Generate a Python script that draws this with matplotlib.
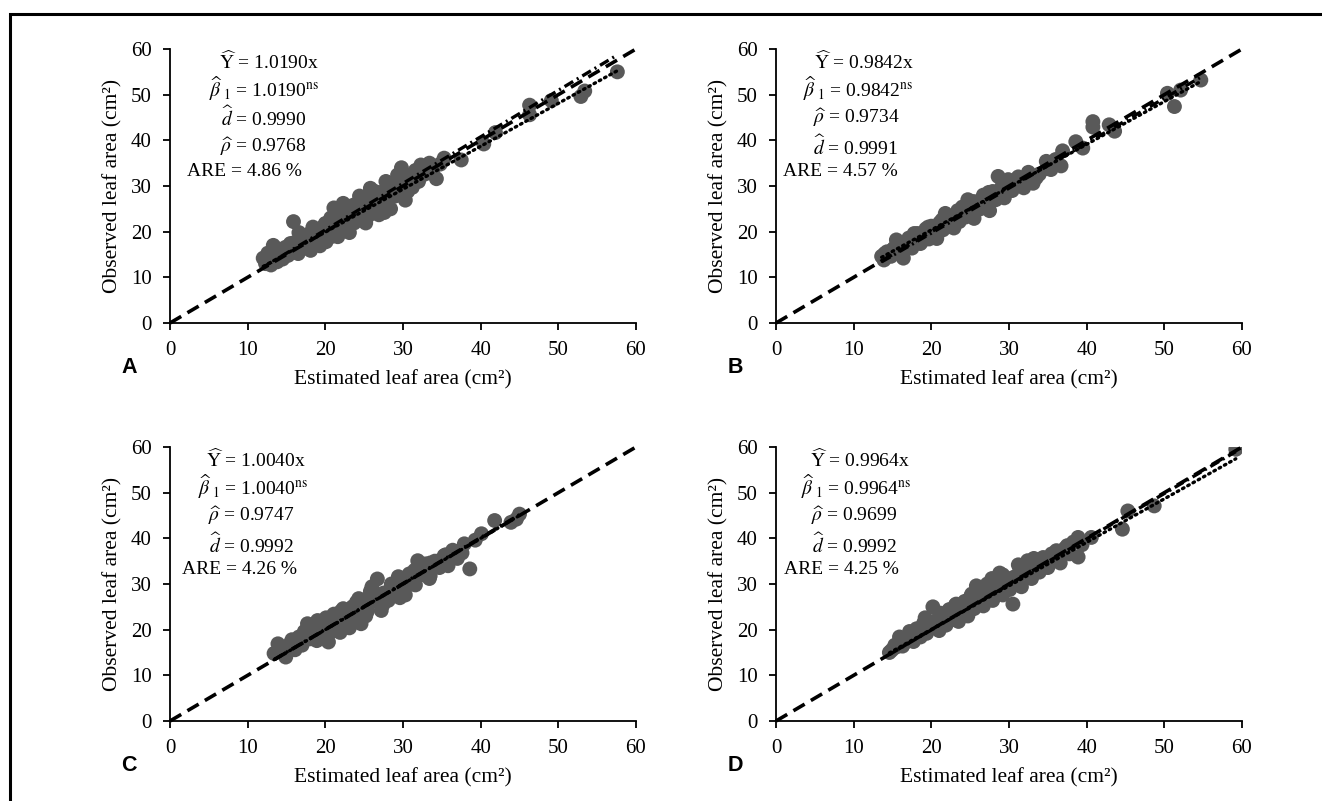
import matplotlib.pyplot as plt
from matplotlib.patches import Rectangle
import numpy as np

plt.rcParams['font.family'] = ['Liberation Serif', 'DejaVu Serif']
plt.rcParams['mathtext.fontset'] = 'stix'

# panel A: estimated vs observed leaf area
a_est = [12.0, 12.3, 12.6, 13.0, 13.3, 13.5, 13.8, 14.2, 14.5, 14.9, 15.2, 15.5, 15.9, 15.8, 16.2,
         16.5, 16.9, 17.2, 17.5, 17.8, 18.1, 18.4, 18.7, 19.0, 19.3, 19.6, 19.9, 20.1, 20.4, 20.7,
         20.9, 21.1, 21.3, 21.6, 21.9, 22.2, 22.5, 22.8, 23.1, 23.4, 23.7, 24.0, 24.3, 24.6, 24.9,
         25.2, 25.5, 25.8, 26.0, 26.3, 26.6, 26.9, 27.2, 27.5, 27.8, 28.1, 28.4, 28.7, 29.0, 29.3,
         29.6, 29.8, 30.1, 30.3, 30.6, 30.9, 31.2, 31.6, 32.0, 32.3, 32.8, 33.4, 33.8, 34.3, 34.8,
         35.3, 37.5, 40.4, 41.9, 46.3, 46.3, 49.1, 52.9, 53.4, 57.6,
         13.0, 14.0, 15.0, 16.0, 17.0, 18.0, 19.0, 20.0, 21.0, 22.0, 23.0, 24.0, 25.0, 26.0, 27.0,
         28.0, 29.0, 30.0, 31.0, 32.0, 33.0, 16.6, 18.4, 20.3, 22.3, 24.4, 26.4, 28.3, 30.2, 21.8,
         23.6, 25.6, 27.6, 29.4]
a_obs = [14.2, 13.0, 15.3, 12.7, 17.0, 14.6, 13.4, 15.8, 14.0, 16.6, 14.8, 17.4, 22.2, 15.5, 16.9,
         15.2, 18.3, 16.4, 19.0, 17.2, 15.9, 18.8, 17.5, 19.8, 16.9, 18.6, 21.4, 17.8, 20.2, 23.0,
         19.0, 25.2, 21.6, 18.9, 22.6, 20.4, 24.3, 21.5, 19.8, 23.4, 21.9, 25.0, 22.6, 26.6, 23.9,
         21.9, 25.6, 29.5, 24.2, 27.4, 25.3, 23.7, 28.6, 26.4, 31.0, 27.2, 25.0, 29.8, 27.8, 32.4,
         29.0, 34.0, 30.6, 26.9, 28.8, 32.0, 29.7, 33.4, 31.0, 34.6, 32.6, 35.0, 33.2, 31.6, 34.8,
         36.1, 35.7, 39.2, 41.7, 47.7, 45.6, 48.7, 49.6, 50.8, 55.0,
         14.8, 16.2, 15.6, 17.6, 17.8, 19.6, 18.0, 21.8, 20.6, 23.6, 22.4, 23.2, 27.0, 26.0, 25.6,
         29.6, 30.2, 32.8, 31.8, 32.6, 34.0, 19.8, 21.0, 18.8, 26.2, 27.8, 28.8, 28.2, 29.0, 24.8,
         25.8, 23.6, 24.2, 31.0]

# panel B
b_est = [13.6, 13.9, 14.3, 14.8, 15.2, 15.5, 15.9, 16.4, 16.7, 17.1, 17.5, 17.9, 18.2, 18.6, 19.0,
         19.3, 19.7, 20.0, 20.4, 20.7, 21.1, 21.5, 21.8, 22.2, 22.5, 22.9, 23.3, 23.6, 24.0, 24.4,
         24.7, 25.1, 25.5, 25.9, 26.3, 26.7, 27.1, 27.5, 27.9, 28.3, 28.6, 29.0, 29.4, 29.9, 30.4,
         30.9, 31.4, 31.9, 32.5, 33.1, 33.9, 34.8, 35.4, 36.0, 36.7, 36.9, 38.6, 39.5, 40.8, 40.8,
         42.9, 43.6, 50.4, 51.3, 52.1, 54.7,
         14.0, 15.0, 16.0, 17.0, 18.0, 19.0, 20.0, 21.0, 22.0, 23.0, 24.0, 25.0, 26.0, 27.0, 28.0,
         29.0, 30.0, 31.0, 32.0, 33.5, 35.0, 17.8, 19.6, 21.4, 23.4, 25.4, 27.4, 29.4, 31.2, 24.6,
         26.8]
b_obs = [14.6, 13.8, 15.6, 14.6, 16.4, 18.2, 15.4, 14.2, 17.2, 18.6, 16.4, 18.2, 19.6, 17.4, 19.0,
         20.6, 18.4, 21.2, 19.6, 18.5, 22.0, 20.4, 24.0, 21.2, 23.0, 20.8, 23.8, 22.2, 25.4, 23.2,
         27.0, 24.6, 22.9, 26.4, 25.0, 28.0, 26.2, 24.6, 28.8, 27.0, 32.1, 29.6, 27.4, 31.4, 29.0,
         30.6, 31.6, 29.6, 33.0, 30.6, 32.6, 35.4, 33.6, 35.8, 34.4, 37.7, 39.7, 38.3, 44.1, 42.9,
         43.4, 42.0, 50.3, 47.4, 51.0, 53.2,
         15.2, 16.0, 16.6, 17.6, 18.8, 18.2, 20.0, 20.8, 22.6, 22.4, 24.2, 24.0, 26.6, 26.0, 27.8,
         28.6, 30.4, 30.0, 31.6, 31.8, 33.8, 19.6, 21.0, 22.6, 24.6, 26.6, 28.6, 30.4, 32.0, 26.0,
         25.8]

# panel C
c_est = [13.4, 13.9, 14.4, 14.9, 15.3, 15.7, 16.1, 16.6, 17.0, 17.3, 17.7, 18.1, 18.5, 18.9, 19.3,
         19.7, 20.1, 20.4, 20.7, 21.1, 21.5, 21.9, 22.3, 22.7, 23.1, 23.5, 23.9, 24.3, 24.6, 25.0,
         25.4, 25.8, 26.3, 26.7, 27.2, 27.6, 28.1, 28.5, 29.0, 29.4, 29.9, 30.3, 30.8, 31.3, 31.9,
         32.4, 32.9, 33.5, 34.1, 34.7, 35.3, 35.8, 36.4, 37.0, 37.6, 37.9, 38.6, 39.3, 40.1, 41.8,
         43.9, 44.6, 45.0,
         14.5, 15.5, 16.5, 17.5, 18.5, 19.5, 20.5, 21.5, 22.5, 23.5, 24.5, 25.5, 26.5, 27.5, 28.5,
         29.5, 30.5, 31.5, 32.5, 33.5, 34.5, 35.5, 36.5, 19.0, 21.2, 23.2, 25.2, 27.4, 29.6, 31.6,
         33.4, 22.0, 24.0, 26.0]
c_obs = [14.8, 16.9, 15.6, 14.0, 16.4, 17.8, 15.6, 18.4, 16.6, 19.6, 21.3, 18.0, 20.0, 17.6, 21.0,
         19.2, 22.6, 17.3, 20.8, 23.4, 21.6, 19.4, 24.6, 22.0, 20.4, 25.0, 23.0, 26.8, 21.3, 25.6,
         24.0, 28.4, 26.2, 31.1, 24.2, 28.0, 26.4, 30.0, 28.2, 31.6, 29.2, 27.6, 32.2, 30.0, 35.1,
         32.0, 34.4, 31.8, 35.0, 33.6, 36.2, 34.0, 37.4, 35.6, 36.8, 38.8, 33.3, 39.6, 41.0, 43.9,
         43.5, 44.2, 45.3,
         15.0, 17.0, 17.2, 18.6, 19.0, 20.6, 21.8, 21.0, 23.6, 23.0, 24.8, 26.8, 27.6, 28.0, 29.6,
         30.0, 31.0, 33.0, 33.2, 34.6, 35.0, 36.4, 36.0, 22.0, 19.8, 21.6, 23.0, 25.4, 27.0, 29.8,
         31.2, 24.0, 26.0, 29.4]

# panel D
d_est = [14.6, 14.9, 15.3, 15.9, 16.3, 16.8, 17.2, 17.7, 18.1, 18.6, 19.0, 19.4, 19.8, 20.2, 20.6,
         21.0, 21.4, 21.9, 22.3, 22.7, 23.1, 23.5, 23.9, 24.3, 24.7, 25.1, 25.5, 25.9, 26.3, 26.7,
         27.1, 27.5, 27.9, 28.3, 28.8, 29.2, 29.7, 30.1, 30.5, 31.0, 31.2, 31.6, 32.0, 32.4, 32.9,
         33.4, 33.9, 34.4, 35.0, 35.5, 36.1, 36.6, 37.2, 37.8, 38.3, 38.9, 38.9, 39.4, 40.6, 44.6,
         45.3, 48.7, 59.2,
         15.5, 16.5, 17.5, 18.5, 19.5, 20.5, 21.5, 22.5, 23.5, 24.5, 25.5, 26.5, 27.5, 28.5, 29.5,
         30.5, 31.5, 32.5, 33.5, 34.5, 35.5, 36.5, 37.5, 19.2, 21.2, 23.2, 25.2, 27.2, 29.2, 31.4,
         33.2, 25.8, 27.8]
d_obs = [15.0, 15.5, 16.6, 18.4, 16.4, 18.0, 19.6, 17.4, 20.2, 18.4, 21.4, 19.2, 20.8, 25.0, 22.0,
         19.8, 23.2, 21.0, 24.4, 22.2, 25.4, 21.8, 23.8, 26.2, 23.0, 27.4, 24.6, 26.2, 28.6, 25.2,
         27.8, 29.6, 26.4, 28.8, 32.4, 27.6, 30.6, 28.8, 25.6, 31.8, 34.2, 29.4, 33.0, 35.1, 31.2,
         34.2, 32.6, 35.8, 33.6, 36.6, 37.3, 34.6, 37.8, 36.6, 39.2, 40.2, 35.9, 38.6, 40.2, 42.0,
         46.0, 47.1, 59.5,
         16.2, 17.0, 18.6, 19.0, 20.6, 21.0, 22.6, 23.2, 24.4, 25.4, 26.0, 27.2, 28.2, 29.4, 30.0,
         31.4, 32.2, 33.6, 34.0, 35.4, 35.8, 37.0, 38.4, 22.6, 23.6, 25.6, 27.8, 30.0, 32.0, 33.6,
         35.6, 29.6, 31.2]

panels = [
    ('A', a_est, a_obs, 1.0190, (0.94, 1.1),
     [r'$\widehat{\mathrm{Y}}$ = 1.0190x', r'$\widehat{\beta}_{\ 1}$ = 1.0190$^{\mathrm{ns}}$',
      r'$\widehat{d}$ = 0.9990', r'$\widehat{\rho}$ = 0.9768', 'ARE = 4.86 %'],
     [12.7, 12.1, 12.0, 12.0, 9.6]),
    ('B', b_est, b_obs, 0.9842, (0.937, 1.64),
     [r'$\widehat{\mathrm{Y}}$ = 0.9842x', r'$\widehat{\beta}_{\ 1}$ = 0.9842$^{\mathrm{ns}}$',
      r'$\widehat{\rho}$ = 0.9734', r'$\widehat{d}$ = 0.9991', 'ARE = 4.57 %'],
     [11.3, 10.6, 10.3, 10.2, 8.3]),
    ('C', c_est, c_obs, 1.0040, (1.0, 0.0),
     [r'$\widehat{\mathrm{Y}}$ = 1.0040x', r'$\widehat{\beta}_{\ 1}$ = 1.0040$^{\mathrm{ns}}$',
      r'$\widehat{\rho}$ = 0.9747', r'$\widehat{d}$ = 0.9992', 'ARE = 4.26 %'],
     [11.1, 10.7, 10.5, 10.5, 8.9]),
    ('D', d_est, d_obs, 0.9964, (0.953, 1.0),
     [r'$\widehat{\mathrm{Y}}$ = 0.9964x', r'$\widehat{\beta}_{\ 1}$ = 0.9964$^{\mathrm{ns}}$',
      r'$\widehat{\rho}$ = 0.9699', r'$\widehat{d}$ = 0.9992', 'ARE = 4.25 %'],
     [10.8, 10.3, 10.1, 10.1, 8.4]),
]

text_y = [57.2, 51.3, 44.9, 38.6, 33.1]

fig = plt.figure(figsize=(13.22, 8.01), dpi=100)

# outer frame, cut off at right and bottom like the source image
fig.patches.append(Rectangle((10 / 1322, -0.1), 1.1, 1 - 14 / 801 + 0.1, transform=fig.transFigure,
                             fill=False, lw=2.2, edgecolor='black'))

lefts = [170 / 1322, 776 / 1322, 170 / 1322, 776 / 1322]
bottoms = [1 - 323 / 801, 1 - 323 / 801, 1 - 721 / 801, 1 - 721 / 801]
w = 466 / 1322
h = 274 / 801

for i, (lab, xe, yo, b, trend, lines, tx) in enumerate(panels):
    ax = fig.add_axes([lefts[i], bottoms[i], w, h])
    xe = np.array(xe)
    ax.scatter(xe, yo, s=115, color='#595959', edgecolors='none', zorder=2)

    # 1:1 line
    ax.plot([0, 60], [0, 60], color='black', lw=2.6, linestyle=(0, (3.6, 2.0)), zorder=3, clip_on=False)
    xr = np.array([xe.min(), xe.max()])
    # fitted line through origin
    ax.plot(xr, b * xr, color='black', lw=2.4, linestyle=(0, (3.0, 1.3, 0.6, 1.3)), zorder=4)
    # linear trend
    ax.plot(xr, trend[0] * xr + trend[1], color='black', lw=2.4, linestyle=(0, (0.5, 1.3)),
            dash_capstyle='round', zorder=4)

    for t, xx, yy in zip(lines, tx, text_y):
        ax.text(xx, yy, t, fontsize=14, ha='center', va='center')

    ax.set_xlim(0, 60)
    ax.set_ylim(0, 60)
    ax.set_xticks(range(0, 61, 10))
    ax.set_yticks(range(0, 61, 10))
    ax.spines['top'].set_visible(False)
    ax.spines['right'].set_visible(False)
    ax.spines['left'].set_linewidth(1.3)
    ax.spines['bottom'].set_linewidth(1.3)
    ax.tick_params(direction='out', length=5, width=1.3, labelsize=15)
    ax.tick_params(axis='x', pad=8)
    ax.tick_params(axis='y', pad=8)
    ax.set_xlabel('Estimated leaf area (cm²)', fontsize=15.5, labelpad=7)
    ax.set_ylabel('Observed leaf area (cm²)', fontsize=15.5, labelpad=6)
    ax.text(-0.088, -0.161, lab, transform=ax.transAxes, fontsize=15.5, fontweight='bold',
            family='Liberation Sans', ha='center', va='center')

fig.savefig('out.png', dpi=100)
